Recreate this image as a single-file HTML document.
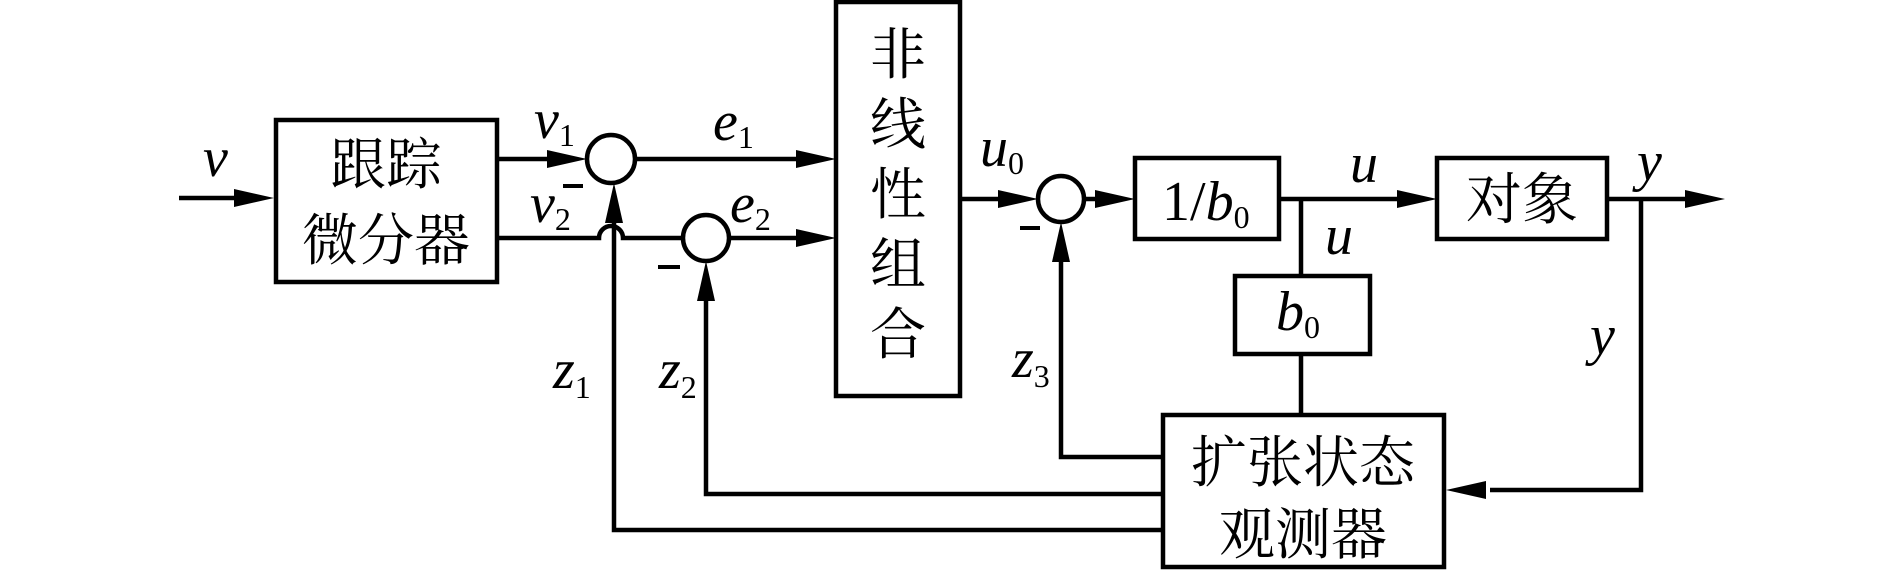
<!DOCTYPE html>
<html><head><meta charset="utf-8"><style>
html,body{margin:0;padding:0;background:#fff;}
svg{display:block}
.cn{font-family:"Noto Serif CJK SC","Liberation Serif","Noto Sans CJK SC",serif;font-size:56px;}
.it{font-family:"Liberation Serif",serif;font-style:italic;font-size:56px;}
.up{font-style:normal;}
.sub{font-family:"Liberation Serif",serif;font-size:32px;font-style:normal;}
</style></head><body>
<svg width="1889" height="570" viewBox="0 0 1889 570" xmlns="http://www.w3.org/2000/svg">
<g fill="none" stroke="#000" stroke-width="4.5">
<rect x="276" y="120" width="221" height="162"/>
<rect x="836" y="2" width="124" height="394"/>
<rect x="1135" y="158" width="144" height="81"/>
<rect x="1437" y="158" width="170" height="81"/>
<rect x="1235" y="276" width="135" height="78"/>
<rect x="1163" y="415" width="281" height="152"/>
<circle cx="611" cy="159" r="24"/>
<circle cx="706" cy="238" r="23"/>
<circle cx="1061" cy="199" r="23"/>
<line x1="179" y1="198" x2="240" y2="198"/>
<line x1="497" y1="159" x2="550" y2="159"/>
<line x1="635" y1="159" x2="800" y2="159"/>
<path d="M497 238 H599 A12 12 0 0 1 623 238 H683"/>
<line x1="729" y1="238" x2="800" y2="238"/>
<line x1="960" y1="199" x2="1000" y2="199"/>
<line x1="1084" y1="199" x2="1100" y2="199"/>
<line x1="1279" y1="199" x2="1400" y2="199"/>
<line x1="1607" y1="199" x2="1690" y2="199"/>
<line x1="1301" y1="199" x2="1301" y2="276"/>
<line x1="1301" y1="354" x2="1301" y2="415"/>
<polyline points="1641,199 1641,490 1490,490"/>
<polyline points="1163,457 1061,457 1061,260"/>
<polyline points="1163,494 706,494 706,300"/>
<polyline points="1163,530 614,530 614,222"/>
</g>
<g fill="#000">
<polygon points="274,198 234,189 234,207"/>
<polygon points="587,159 547,150 547,168"/>
<polygon points="836,159 796,150 796,168"/>
<polygon points="836,238 796,229 796,247"/>
<polygon points="1038,199 998,190 998,208"/>
<polygon points="1135,199 1095,190 1095,208"/>
<polygon points="1437,199 1397,190 1397,208"/>
<polygon points="1725,199 1685,190 1685,208"/>
<polygon points="1446,490 1486,481 1486,499"/>
<polygon points="614,183 605,223 623,223"/>
<polygon points="706,261 697,301 715,301"/>
<polygon points="1061,222 1052,262 1070,262"/>
<rect x="563" y="184" width="20" height="4"/>
<rect x="658" y="265" width="22" height="4"/>
<rect x="1020" y="226" width="20" height="4"/>
</g>
<g fill="#000">
<text class="cn" x="386" y="184" text-anchor="middle">跟踪</text>
<text class="cn" x="386" y="260" text-anchor="middle">微分器</text>
<text class="cn" x="898" y="74" text-anchor="middle">非</text>
<text class="cn" x="898" y="144" text-anchor="middle">线</text>
<text class="cn" x="898" y="214" text-anchor="middle">性</text>
<text class="cn" x="898" y="284" text-anchor="middle">组</text>
<text class="cn" x="898" y="354" text-anchor="middle">合</text>
<text class="cn" x="1522" y="219" text-anchor="middle">对象</text>
<text class="cn" x="1303" y="482" text-anchor="middle">扩张状态</text>
<text class="cn" x="1303" y="554" text-anchor="middle">观测器</text>
<text class="it" x="1162" y="220"><tspan class="up">1/</tspan>b<tspan class="sub" dy="8">0</tspan></text>
<text class="it" x="1276" y="330">b<tspan class="sub" dy="8">0</tspan></text>
<text class="it" x="203" y="176">v</text>
<text class="it" x="534" y="138">v<tspan class="sub" dy="8">1</tspan></text>
<text class="it" x="530" y="222">v<tspan class="sub" dy="8">2</tspan></text>
<text class="it" x="713" y="140">e<tspan class="sub" dy="8">1</tspan></text>
<text class="it" x="730" y="222">e<tspan class="sub" dy="8">2</tspan></text>
<text class="it" x="980" y="166">u<tspan class="sub" dy="8">0</tspan></text>
<text class="it" x="1350" y="182">u</text>
<text class="it" x="1325" y="254">u</text>
<text class="it" x="1637" y="180">y</text>
<text class="it" x="1590" y="354">y</text>
<text class="it" x="553" y="388">z<tspan class="sub" dy="10">1</tspan></text>
<text class="it" x="659" y="388">z<tspan class="sub" dy="10">2</tspan></text>
<text class="it" x="1012" y="377">z<tspan class="sub" dy="10">3</tspan></text>
</g>
</svg>
</body></html>
